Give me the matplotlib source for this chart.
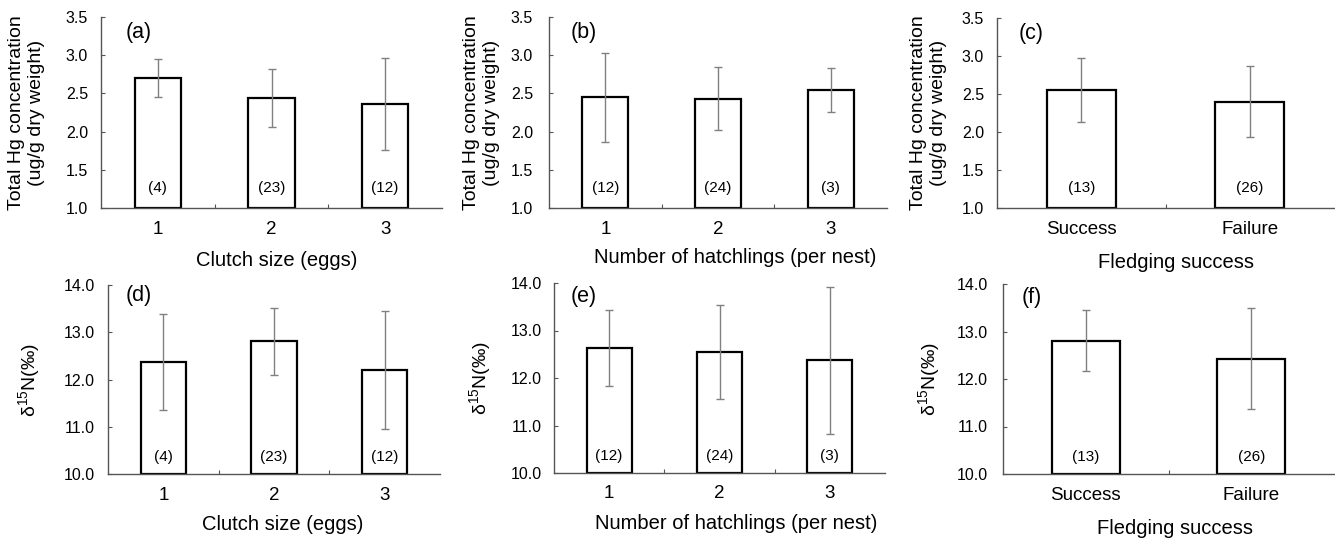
import matplotlib
matplotlib.use("Agg")
import matplotlib.pyplot as plt
import matplotlib.transforms as mtransforms

plt.rcParams['font.family'] = ['Liberation Sans', 'DejaVu Sans']
plt.rcParams['mathtext.fontset'] = 'custom'
plt.rcParams['mathtext.rm'] = 'Liberation Sans'
plt.rcParams['mathtext.it'] = 'Liberation Sans'

# ---------------- data ----------------
cat_clutch = ['1', '2', '3']
cat_hatch = ['1', '2', '3']
cat_fledge = ['Success', 'Failure']

n_clutch = [4, 23, 12]
n_hatch = [12, 24, 3]
n_fledge = [13, 26]

hg_clutch = [2.70, 2.44, 2.36]
hg_clutch_err = [0.25, 0.38, 0.60]
hg_hatch = [2.45, 2.43, 2.54]
hg_hatch_err = [0.58, 0.41, 0.29]
hg_fledge = [2.55, 2.40]
hg_fledge_err = [0.42, 0.47]

n15_clutch = [12.37, 12.81, 12.20]
n15_clutch_err = [1.01, 0.71, 1.25]
n15_hatch = [12.63, 12.54, 12.37]
n15_hatch_err = [0.80, 0.99, 1.55]
n15_fledge = [12.81, 12.43]
n15_fledge_err = [0.64, 1.07]

hg_ticks = [1.0, 1.5, 2.0, 2.5, 3.0, 3.5]
n15_ticks = [10.0, 11.0, 12.0, 13.0, 14.0]

xlabels = ['Clutch size (eggs)', 'Number of hatchlings (per nest)', 'Fledging success']
hg_ylabel = 'Total Hg concentration\n(ug/g dry weight)'
n15_ylabel = r'δ$^{15}$N(‰)'
panel_letters = ['(a)', '(b)', '(c)', '(d)', '(e)', '(f)']

# ---------------- figure ----------------
W, H = 1335, 541
fig = plt.figure(figsize=(W / 100, H / 100), dpi=100)

def px_axes(l, r, t, b):
    return fig.add_axes([l / W, (H - b) / H, (r - l) / W, (b - t) / H])

panels = [
    dict(box=(101, 442, 17, 208), cats=cat_clutch, v=hg_clutch, e=hg_clutch_err, n=n_clutch,
         ticks=hg_ticks, yl=hg_ylabel, xl=xlabels[0], ylx=-0.164, xlx=0.516, xly=-0.225,
         let=(0.073, 0.92), ny=0.105, pad=9.4),
    dict(box=(549, 887, 17, 208), cats=cat_hatch, v=hg_hatch, e=hg_hatch_err, n=n_hatch,
         ticks=hg_ticks, yl=hg_ylabel, xl=xlabels[1], ylx=-0.145, xlx=0.55, xly=-0.21,
         let=(0.064, 0.92), ny=0.105, pad=11.5),
    dict(box=(997, 1334, 18, 208), cats=cat_fledge, v=hg_fledge, e=hg_fledge_err, n=n_fledge,
         ticks=hg_ticks, yl=hg_ylabel, xl=xlabels[2], ylx=-0.149, xlx=0.53, xly=-0.235,
         let=(0.065, 0.92), ny=0.105, pad=9.4),
    dict(box=(108, 440, 285, 474), cats=cat_clutch, v=n15_clutch, e=n15_clutch_err, n=n_clutch,
         ticks=n15_ticks, yl=n15_ylabel, xl=xlabels[0], ylx=-0.20, xlx=0.525, xly=-0.215,
         let=(0.054, 0.945), ny=0.088, pad=9.4),
    dict(box=(554, 885, 283, 473), cats=cat_hatch, v=n15_hatch, e=n15_hatch_err, n=n_hatch,
         ticks=n15_ticks, yl=n15_ylabel, xl=xlabels[1], ylx=-0.185, xlx=0.55, xly=-0.215,
         let=(0.05, 0.93), ny=0.088, pad=8.6),
    dict(box=(1003, 1334, 284, 474), cats=cat_fledge, v=n15_fledge, e=n15_fledge_err, n=n_fledge,
         ticks=n15_ticks, yl=n15_ylabel, xl=xlabels[2], ylx=-0.185, xlx=0.52, xly=-0.235,
         let=(0.056, 0.93), ny=0.088, pad=10.8),
]

spine_col = '#555555'
err_col = '#808080'

for i, p in enumerate(panels):
    ax = px_axes(*p['box'])
    k = len(p['cats'])
    xs = list(range(k))
    base = p['ticks'][0]
    top = p['ticks'][-1]
    heights = [v - base for v in p['v']]
    ax.bar(xs, heights, bottom=base, width=0.41, color='white', edgecolor='black',
           linewidth=1.6, zorder=2)
    ax.errorbar(xs, p['v'], yerr=p['e'], fmt='none', ecolor=err_col, elinewidth=1.0,
                capsize=2.8, capthick=1.0, zorder=3)
    ax.set_xlim(-0.5, k - 0.5)
    ax.set_ylim(base, top)
    ax.set_yticks(p['ticks'])
    ax.set_yticklabels([f'{t:.1f}' for t in p['ticks']])
    # major ticks between categories, labels at centres
    ax.set_xticks([j + 0.5 for j in range(k - 1)])
    ax.set_xticklabels([])
    ax.set_xticks(xs, minor=True)
    ax.set_xticklabels(p['cats'], minor=True)
    ax.tick_params(axis='x', which='major', direction='in', length=3, width=0.8, color=spine_col)
    ax.tick_params(axis='x', which='minor', length=0, pad=9, labelsize=13.5)
    ax.tick_params(axis='y', direction='in', length=3, width=0.8, color=spine_col,
                   pad=p['pad'], labelsize=11.5)
    for s in ['top', 'right']:
        ax.spines[s].set_visible(False)
    for s in ['left', 'bottom']:
        ax.spines[s].set_color(spine_col)
        ax.spines[s].set_linewidth(1.0)
        ax.spines[s].set_zorder(4)
    ax.set_ylabel(p['yl'], fontsize=14, linespacing=1.2)
    ax.yaxis.set_label_coords(p['ylx'], 0.5)
    ax.set_xlabel(p['xl'], fontsize=14.5)
    ax.xaxis.set_label_coords(p['xlx'], p['xly'])
    trans = mtransforms.blended_transform_factory(ax.transData, ax.transAxes)
    for x, n in zip(xs, p['n']):
        ax.text(x, p['ny'], f'({n})', transform=trans, ha='center', va='center',
                fontsize=11, zorder=5)
    ax.text(p['let'][0], p['let'][1], panel_letters[i], transform=ax.transAxes,
            ha='left', va='center', fontsize=15.5)

fig.savefig('out.png', dpi=100)
